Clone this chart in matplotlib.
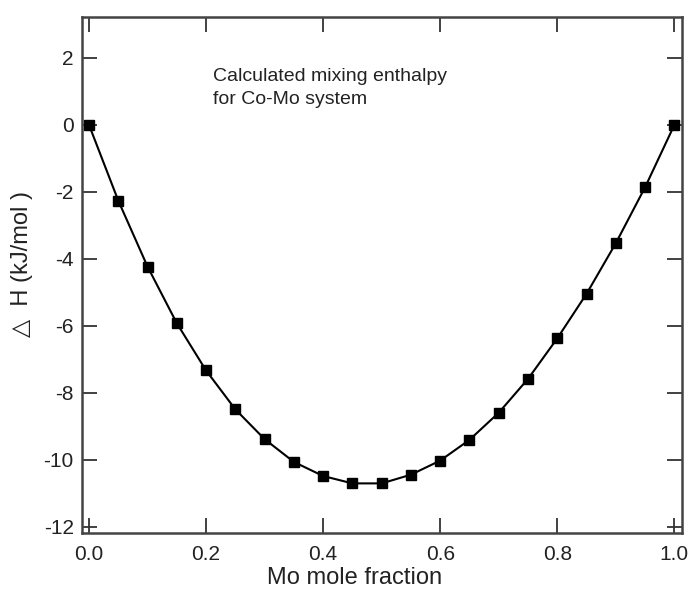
import matplotlib
matplotlib.use("Agg")
import matplotlib.pyplot as plt

plt.rcParams['font.family'] = ['Liberation Sans', 'DejaVu Sans']

mo_fraction = [0.0, 0.05, 0.10, 0.15, 0.20, 0.25, 0.30, 0.35, 0.40, 0.45, 0.50,
               0.55, 0.60, 0.65, 0.70, 0.75, 0.80, 0.85, 0.90, 0.95, 1.0]
delta_h = [0.0, -2.26, -4.23, -5.92, -7.33, -8.49, -9.38, -10.06, -10.48, -10.70, -10.70,
           -10.44, -10.02, -9.40, -8.59, -7.58, -6.37, -5.04, -3.53, -1.86, 0.0]
x_ticks = [0.0, 0.2, 0.4, 0.6, 0.8, 1.0]
y_ticks = [-12, -10, -8, -6, -4, -2, 0, 2]

fig = plt.figure(figsize=(6.9, 5.92), dpi=100)
ax = fig.add_axes([0.1188, 0.0997, 0.8696, 0.8716])

ax.plot(mo_fraction, delta_h, color='black', lw=1.5, marker='s', ms=7.5,
        markerfacecolor='black', markeredgecolor='black')

ax.set_xlim(-0.012, 1.013)
ax.set_ylim(-12.18, 3.22)
ax.set_xticks(x_ticks)
ax.set_xticklabels([f"{v:.1f}" for v in x_ticks])
ax.set_yticks(y_ticks)
ax.set_yticklabels([str(v) for v in y_ticks])

ax.tick_params(direction='in', length=11, width=1.3, color='#333333',
               top=True, right=True, labelsize=15, labelcolor='#222222')
ax.tick_params(axis='x', pad=9)
ax.tick_params(axis='y', pad=6)
for s in ax.spines.values():
    s.set_linewidth(1.8)
    s.set_color('#444444')

ax.set_xlabel('Mo mole fraction', fontsize=17, color='#222222')
ax.xaxis.set_label_coords(0.455, -0.066)
ax.set_ylabel('\u25b3  H (kJ/mol )', fontsize=17, color='#222222')
ax.yaxis.set_label_coords(-0.082, 0.521)

ax.text(0.211, 1.09, 'Calculated mixing enthalpy\nfor Co-Mo system', fontsize=14,
        color='#222222', ha='left', va='center', linespacing=1.45)

fig.savefig('out.png', dpi=100)
